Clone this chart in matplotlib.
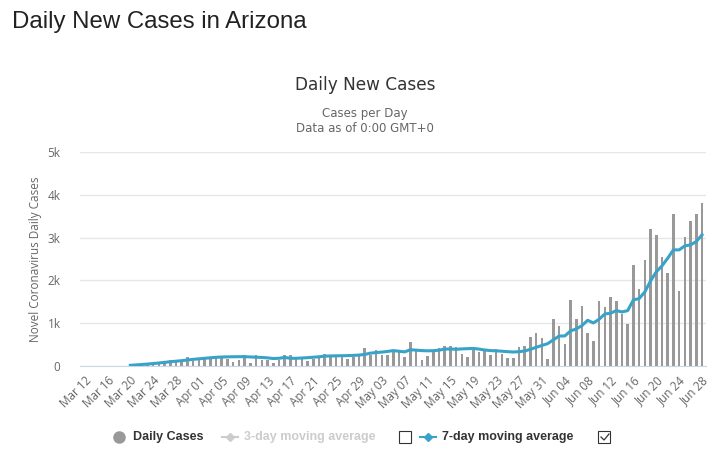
import numpy as np
import pandas as pd
import matplotlib
matplotlib.use('Agg')
import matplotlib.pyplot as plt
from matplotlib.lines import Line2D
from matplotlib.patches import Rectangle

# Дни: Mar 12 .. Jun 28 (109 значений)
dates = pd.date_range('2020-03-12', '2020-06-28', freq='D')

# Ежедневные новые случаи
daily_cases = [
    0, 0, 3, 1, 0, 5, 8, 10, 18, 20,              # Mar 12 - Mar 21
    35, 25, 45, 62, 78, 140, 94, 125, 203, 125,   # Mar 22 - Mar 31
    156, 172, 172, 234, 234, 172, 101, 140, 250, 78,  # Apr 01 - Apr 10
    250, 140, 140, 70, 148, 257, 250, 179, 203, 125,  # Apr 11 - Apr 20
    164, 211, 281, 250, 203, 211, 164, 211, 242, 421,  # Apr 21 - Apr 30
    257, 374, 257, 257, 320, 335, 211, 561, 374, 140,  # May 01 - May 10
    234, 327, 421, 468, 468, 444, 281, 211, 398, 320,  # May 11 - May 20
    374, 257, 398, 281, 187, 187, 444, 468, 678, 772,  # May 21 - May 30
    655, 164, 1099, 936, 515, 1544, 1099, 1404, 772, 585,  # May 31 - Jun 09
    1520, 1380, 1614, 1520, 1224, 982, 2363, 1801, 2480, 3205,  # Jun 10 - Jun 19
    3064, 2550, 2175, 3556, 1754, 3018, 3392, 3556, 3813,  # Jun 20 - Jun 28
]

# Скользящее среднее за 7 дней (с Mar 20)
avg_7day = [np.nan] * 8 + [
    16, 25, 35, 45, 57, 70, 85, 100, 112, 125,
    140, 155, 168, 180, 192, 203, 210, 214, 216, 218,
    218, 212, 205, 200, 190, 175, 180, 200, 180, 180,
    187, 195, 205, 215, 230, 235, 238, 240, 243, 248,
    255, 270, 300, 315, 325, 340, 360, 345, 330, 380,
    370, 360, 355, 358, 370, 395, 398, 390, 400, 405,
    410, 395, 374, 360, 355, 345, 335, 327, 335, 351,
    390, 437, 480, 522, 610, 700, 702, 819, 866, 943,
    1068, 1006, 1092, 1216, 1232, 1294, 1263, 1294, 1544, 1575,
    1731, 1988, 2199, 2339, 2519, 2713, 2713, 2807, 2830, 2908,
    3064,
]

tick_labels = [d.strftime('%b %d') for d in dates[::4]]
y_ticks = [0, 1000, 2000, 3000, 4000, 5000]
y_tick_labels = ['0', '1k', '2k', '3k', '4k', '5k']

bar_color = '#999999'
line_color = '#38a3c9'
text_gray = '#666666'

W, H = 723, 457
fig = plt.figure(figsize=(W / 100, H / 100), dpi=100)
ax = fig.add_axes([80 / W, 1 - 366 / H, 626 / W, 214 / H])

x = np.arange(len(dates))
ax.bar(x, daily_cases, width=0.45, color=bar_color, zorder=2)
ax.plot(x, avg_7day, color=line_color, linewidth=2.2, zorder=3)

ax.set_xlim(-0.8, 108.7)
ax.set_ylim(0, 5000)
ax.set_yticks(y_ticks)
ax.set_yticklabels(y_tick_labels, color=text_gray, fontsize=8.5, family='Open Sans')
ax.set_xticks(x[::4])
ax.set_xticklabels(tick_labels, rotation=45, ha='right', rotation_mode='anchor',
                   color=text_gray, fontsize=8.4, family='Open Sans')
ax.tick_params(axis='both', length=0, pad=6)
ax.tick_params(axis='y', pad=14)
ax.grid(axis='y', color='#e6e6e6', linewidth=1, zorder=0)
for side in ['top', 'right', 'left']:
    ax.spines[side].set_visible(False)
ax.spines['bottom'].set_color('#ccd6eb')
ax.set_ylabel('Novel Coronavirus Daily Cases', color=text_gray, fontsize=8.5,
              family='Open Sans', labelpad=4)

# Заголовки
fig.text(12 / W, 1 - 22 / H, 'Daily New Cases in Arizona', fontsize=17.3,
         family='Liberation Sans', color='#222222', va='center', ha='left')
fig.text(365 / W, 1 - 85 / H, 'Daily New Cases', fontsize=12.2,
         family='DejaVu Sans', color='#333333', va='center', ha='center')
fig.text(365 / W, 1 - 114 / H, 'Cases per Day', fontsize=8.5,
         family='DejaVu Sans', color=text_gray, va='center', ha='center')
fig.text(365 / W, 1 - 129 / H, 'Data as of 0:00 GMT+0', fontsize=8.5,
         family='DejaVu Sans', color=text_gray, va='center', ha='center')

# Легенда внизу
ly = 1 - 437 / H
fig.add_artist(Line2D([119 / W], [ly], marker='o', markersize=8, color=bar_color,
                      transform=fig.transFigure))
fig.text(133 / W, ly, 'Daily Cases', fontsize=9, fontweight='bold', color='#333333',
         family='Liberation Sans', va='center', ha='left')

fig.add_artist(Line2D([222 / W, 238 / W], [ly, ly], color='#cccccc', linewidth=1.5,
                      transform=fig.transFigure))
fig.add_artist(Line2D([230 / W], [ly], marker='D', markersize=4, color='#cccccc',
                      transform=fig.transFigure))
fig.text(244 / W, ly, '3-day moving average', fontsize=9, fontweight='bold',
         color='#cccccc', family='Liberation Sans', va='center', ha='left')
fig.add_artist(Rectangle((399 / W, ly - 6 / H), 12 / W, 12 / H, fill=False,
                         edgecolor='#333333', linewidth=0.8, transform=fig.transFigure))

fig.add_artist(Line2D([420 / W, 436 / W], [ly, ly], color=line_color, linewidth=1.5,
                      transform=fig.transFigure))
fig.add_artist(Line2D([428 / W], [ly], marker='D', markersize=4, color=line_color,
                      transform=fig.transFigure))
fig.text(442 / W, ly, '7-day moving average', fontsize=9, fontweight='bold',
         color='#333333', family='Liberation Sans', va='center', ha='left')
fig.add_artist(Rectangle((598 / W, ly - 6 / H), 12 / W, 12 / H, fill=False,
                         edgecolor='#333333', linewidth=0.8, transform=fig.transFigure))
fig.add_artist(Line2D([601 / W, 604 / W, 609 / W], [ly, ly - 3 / H, ly + 3 / H],
                      color='#333333', linewidth=0.9, transform=fig.transFigure))

fig.savefig('out.png', dpi=100, facecolor='white')
